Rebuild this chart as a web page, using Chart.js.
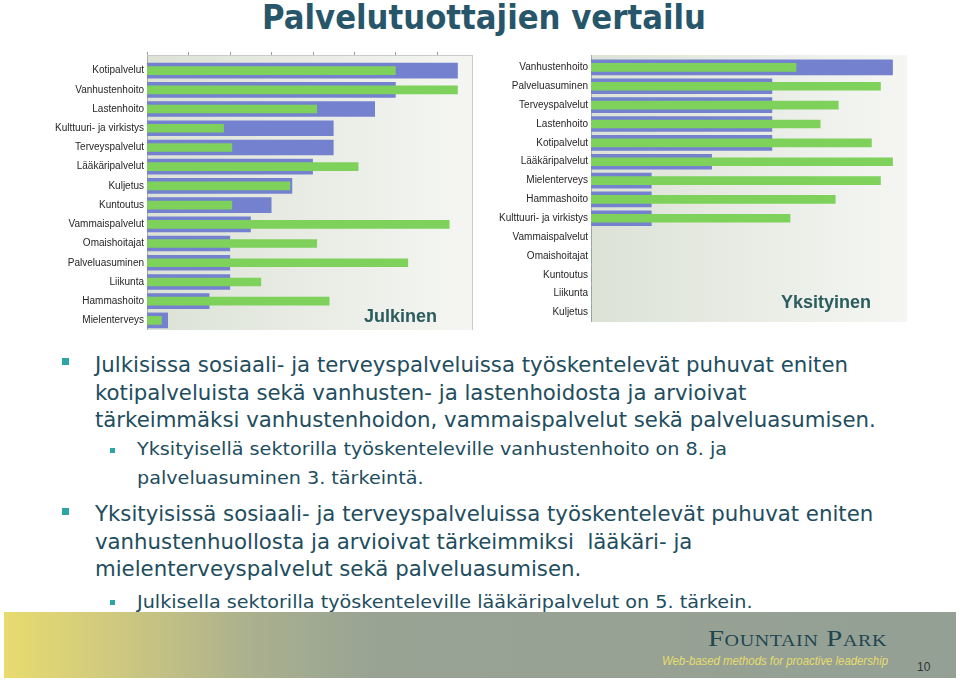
<!DOCTYPE html>
<html>
<head>
<meta charset="utf-8">
<script src="https://cdn.jsdelivr.net/npm/chart.js@4.4.1/dist/chart.umd.min.js"></script>
<style>
  body { margin: 0; width: 960px; height: 681px; overflow: hidden; background: #fff; position: relative; }
  .t { position: absolute; white-space: nowrap; line-height: 1; transform-origin: 0 0; }
  .title { font-family: "DejaVu Sans", sans-serif; font-weight: bold; font-size: 33px; color: #27566a; }
  .main { font-family: "DejaVu Sans", sans-serif; font-size: 21px; color: #214d5e; left: 95px; }
  .sub { font-family: "DejaVu Sans", sans-serif; font-size: 18px; color: #214d5e; left: 137px; }
  .sq { position: absolute; background: #2ba5a5; }
  .tag { font-family: "Liberation Sans", Arial, sans-serif; font-weight: bold; font-size: 18px; color: #2b5c5e; z-index: 2; }
  canvas { position: absolute; }
  #footer { position: absolute; left: 4px; top: 612px; width: 952px; height: 66px;
    background: linear-gradient(to right, #e8db6f 0px, #cfc97f 110px, #aab08e 250px, #98a394 370px, #95a095 100%); }
</style>
</head>
<body>
<div class="t title" style="left:262px; top:1px" data-w="444">Palvelutuottajien vertailu</div>

<canvas id="julkinen" width="440" height="300" style="left:40px; top:40px"></canvas>
<canvas id="yksityinen" width="440" height="300" style="left:480px; top:40px"></canvas>
<div class="t tag" style="left:364px; top:307px">Julkinen</div>
<div class="t tag" style="left:781px; top:293px">Yksityinen</div>

<div class="sq" style="left:62px; top:358px; width:7px; height:7px"></div>
<div class="t main" style="top:355px" data-g="main" data-w="753">Julkisissa sosiaali- ja terveyspalveluissa työskentelevät puhuvat eniten</div>
<div class="t main" style="top:383px" data-g="main">kotipalveluista sekä vanhusten- ja lastenhoidosta ja arvioivat</div>
<div class="t main" style="top:410px" data-g="main">tärkeimmäksi vanhustenhoidon, vammaispalvelut sekä palveluasumisen.</div>
<div class="sq" style="left:110px; top:448px; width:5px; height:5px"></div>
<div class="t sub" style="top:440px" data-g="sub" data-w="590">Yksityisellä sektorilla työskenteleville vanhustenhoito on 8. ja</div>
<div class="t sub" style="top:469px" data-g="sub">palveluasuminen 3. tärkeintä.</div>

<div class="sq" style="left:62px; top:508px; width:7px; height:7px"></div>
<div class="t main" style="top:504px" data-g="main">Yksityisissä sosiaali- ja terveyspalveluissa työskentelevät puhuvat eniten</div>
<div class="t main" style="top:532px" data-g="main">vanhustenhuollosta ja arvioivat tärkeimmiksi &nbsp;lääkäri- ja</div>
<div class="t main" style="top:559px" data-g="main">mielenterveyspalvelut sekä palveluasumisen.</div>
<div class="sq" style="left:110px; top:600px; width:5px; height:5px"></div>
<div class="t sub" style="top:593px" data-g="sub">Julkisella sektorilla työskenteleville lääkäripalvelut on 5. tärkein.</div>

<div id="footer"></div>
<div class="t" style="left:708px; top:627px; font-family:'Liberation Serif',serif; font-size:23px; font-variant:small-caps; letter-spacing:0.5px; color:#1e4752" data-w="179">Fountain Park</div>
<div class="t" style="left:662px; top:654px; font-family:'Liberation Sans Narrow','Liberation Sans',sans-serif; font-style:italic; font-size:13px; color:#e6dc6c" data-w="226">Web-based methods for proactive leadership</div>
<div class="t" style="left:917px; top:661px; font-family:'Liberation Sans',sans-serif; font-size:12px; color:#333">10</div>

<script>
// julkinen sektori
const julkinenLabels = ['Kotipalvelut', 'Vanhustenhoito', 'Lastenhoito', 'Kulttuuri- ja virkistys', 'Terveyspalvelut',
  'Lääkäripalvelut', 'Kuljetus', 'Kuntoutus', 'Vammaispalvelut', 'Omaishoitajat', 'Palveluasuminen', 'Liikunta',
  'Hammashoito', 'Mielenterveys'];
const julkinenSininen = [15, 12, 11, 9, 9, 8, 7, 6, 5, 4, 4, 4, 3, 1];
const julkinenVihrea = [12, 15, 8.2, 3.7, 4.1, 10.2, 6.9, 4.1, 14.6, 8.2, 12.6, 5.5, 8.8, 0.7];

// yksityinen sektori
const yksityinenLabels = ['Vanhustenhoito', 'Palveluasuminen', 'Terveyspalvelut', 'Lastenhoito', 'Kotipalvelut',
  'Lääkäripalvelut', 'Mielenterveys', 'Hammashoito', 'Kulttuuri- ja virkistys', 'Vammaispalvelut', 'Omaishoitajat',
  'Kuntoutus', 'Liikunta', 'Kuljetus'];
const yksityinenSininen = [5, 3, 3, 3, 3, 2, 1, 1, 1, 0, 0, 0, 0, 0];
const yksityinenVihrea = [3.4, 4.8, 4.1, 3.8, 4.65, 5, 4.8, 4.05, 3.3, 0, 0, 0, 0, 0];

const SININEN = '#7481cf';
const VIHREA = '#7ed15b';

// taustagradientti + kehykset
const plotFrame = {
  id: 'plotFrame',
  beforeDraw(chart, args, opts) {
    const {ctx, chartArea: a} = chart;
    const top = a.top - opts.lift;
    const g = ctx.createLinearGradient(a.left, 0, a.right, 0);
    g.addColorStop(0, '#dce2d6');
    g.addColorStop(1, '#f5f6f3');
    ctx.save();
    ctx.fillStyle = g;
    ctx.fillRect(a.left, top, a.right - a.left, a.bottom - top);
    ctx.lineWidth = 1;
    ctx.strokeStyle = '#a9aea6';
    ctx.beginPath();
    ctx.moveTo(a.left + 0.5, top);
    ctx.lineTo(a.left + 0.5, a.bottom);
    ctx.stroke();
    if (opts.frame) {
      ctx.strokeStyle = '#c9ccc6';
      ctx.beginPath();
      ctx.moveTo(a.left, top + 0.5);
      ctx.lineTo(a.right, top + 0.5);
      ctx.moveTo(a.right - 0.5, top);
      ctx.lineTo(a.right - 0.5, a.bottom);
      ctx.stroke();
      ctx.strokeStyle = '#9a9e98';
      ctx.beginPath();
      chart.scales.x.ticks.forEach(t => {
        const x = Math.round(chart.scales.x.getPixelForValue(t.value)) + 0.5;
        ctx.moveTo(x, top - 3);
        ctx.lineTo(x, top);
      });
      ctx.stroke();
    }
    ctx.restore();
  }
};

const makeChart = (id, labels, sininen, vihrea, max, yWidth, padding, frame) => {
  return new Chart(document.getElementById(id), {
    type: 'bar',
    data: {
      labels: labels,
      datasets: [
        { label: 'vihreä', data: vihrea, backgroundColor: VIHREA, barThickness: 8, grouped: false, order: 0 },
        { label: 'sininen', data: sininen, backgroundColor: SININEN, barThickness: 15, grouped: false, order: 1 }
      ]
    },
    options: {
      indexAxis: 'y',
      responsive: false,
      animation: false,
      layout: { padding: padding },
      plugins: {
        legend: { display: false },
        tooltip: { enabled: false },
        plotFrame: frame
      },
      scales: {
        x: { type: 'linear', min: 0, max: max, display: false, ticks: { stepSize: 1 } },
        y: {
          grid: { display: false, drawTicks: false, tickLength: 0 },
          border: { display: false },
          ticks: { color: '#262626', padding: 3, autoSkip: false,
            font: { family: "'Liberation Sans', Arial, sans-serif", size: 10 } },
          afterFit: (s) => { s.width = yWidth; }
        }
      }
    },
    plugins: [plotFrame]
  });
};

makeChart('julkinen', julkinenLabels, julkinenSininen, julkinenVihrea, 15.75, 107,
  { top: 21, right: 7, bottom: 10, left: 0 }, { lift: 6, frame: true });
makeChart('yksityinen', yksityinenLabels, yksityinenSininen, yksityinenVihrea, 5.24, 111,
  { top: 18, right: 13, bottom: 18, left: 0 }, { lift: 3, frame: false });

// tekstien leveydet kuvan mukaan
const scales = {};
document.querySelectorAll('[data-w]').forEach(el => {
  const s = +el.dataset.w / el.getBoundingClientRect().width;
  if (el.dataset.g) scales[el.dataset.g] = s;
  el.style.transform = 'scaleX(' + s + ')';
});
document.querySelectorAll('[data-g]:not([data-w])').forEach(el => {
  el.style.transform = 'scaleX(' + scales[el.dataset.g] + ')';
});
</script>
</body>
</html>
